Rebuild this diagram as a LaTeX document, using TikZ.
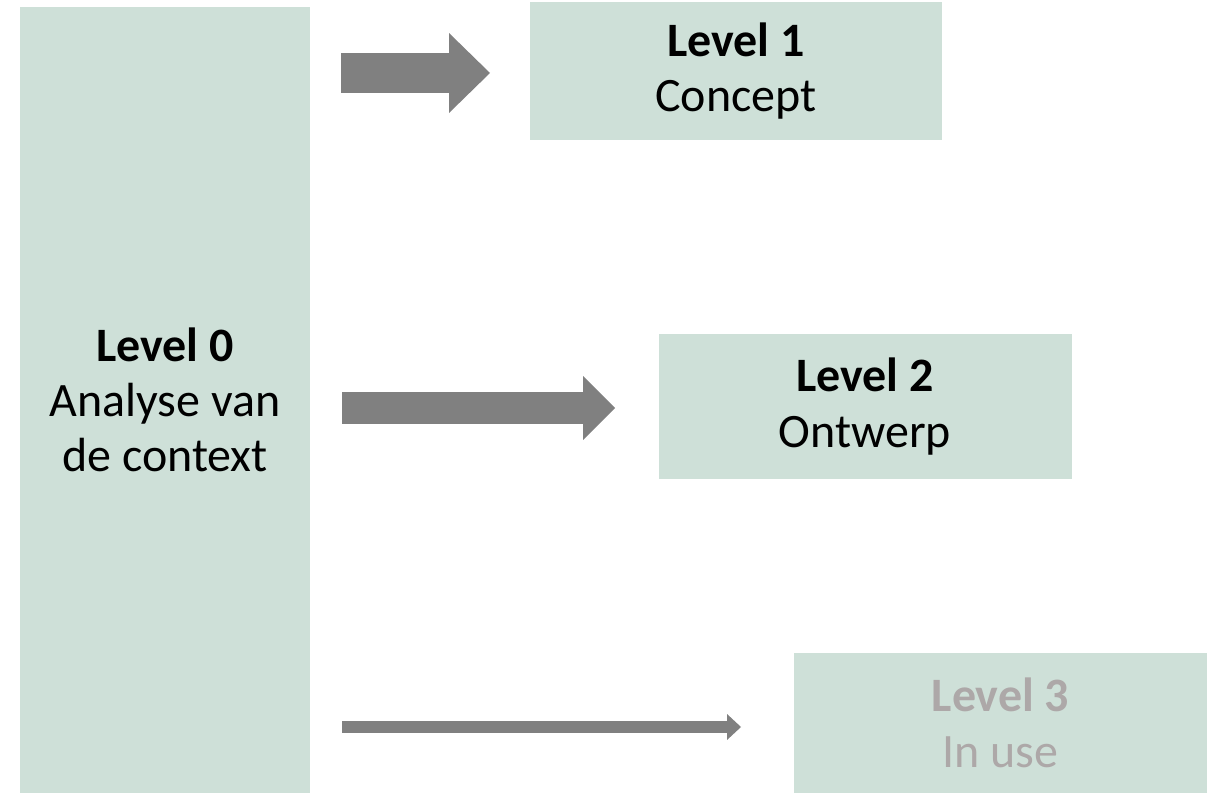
\documentclass[tikz,border=0pt]{standalone}
\usepackage{fontspec}
\setmainfont{Carlito}
\usetikzlibrary{arrows.meta}
\definecolor{boxgreen}{RGB}{206,224,216}
\definecolor{arrowgray}{RGB}{128,128,128}
\definecolor{fadedtext}{RGB}{173,168,168}
\begin{document}
\begin{tikzpicture}[
		x=0.02cm, y=-0.02cm,
		lvlbox/.style={fill=boxgreen, inner sep=0pt, align=center, font=\fontsize{27.3}{31.5}\selectfont},
		blockarrow/.style={draw=arrowgray, line cap=butt}
		]
		\useasboundingbox (0,0) rectangle (1217,793);
		
		% Levels
		\node[lvlbox, minimum width=290*0.02cm, minimum height=786*0.02cm] (lvl0) at (165,400) {\textbf{Level 0}\\Analyse van\\de context};
		\node[lvlbox, minimum width=412*0.02cm, minimum height=138*0.02cm] (lvl1) at (736,71) {\textbf{Level 1}\\Concept};
		\node[lvlbox, minimum width=413*0.02cm, minimum height=145*0.02cm] (lvl2) at (865,406.5) {\textbf{Level 2}\\Ontwerp};
		\node[lvlbox, minimum width=413*0.02cm, minimum height=140*0.02cm, text=fadedtext] (lvl3) at (1000.5,723) {\textbf{Level 3}\\In use};
		
		% Arrows
		\coordinate (a1s) at (341,73);
		\coordinate (a1e) at (490,73);
		\coordinate (a2s) at (342,408);
		\coordinate (a2e) at (615,408);
		\coordinate (a3s) at (342,727);
		\coordinate (a3e) at (741,727);
		\draw[blockarrow, line width=0.8cm, -{Triangle[length=0.82cm, width=1.6cm, line width=0pt, fill=arrowgray]}] (a1s) -- (a1e);
		\draw[blockarrow, line width=0.64cm, -{Triangle[length=0.64cm, width=1.28cm, line width=0pt, fill=arrowgray]}] (a2s) -- (a2e);
		\draw[blockarrow, line width=0.24cm, -{Triangle[length=0.28cm, width=0.52cm, line width=0pt, fill=arrowgray]}] (a3s) -- (a3e);
		
\end{tikzpicture}
\end{document}
